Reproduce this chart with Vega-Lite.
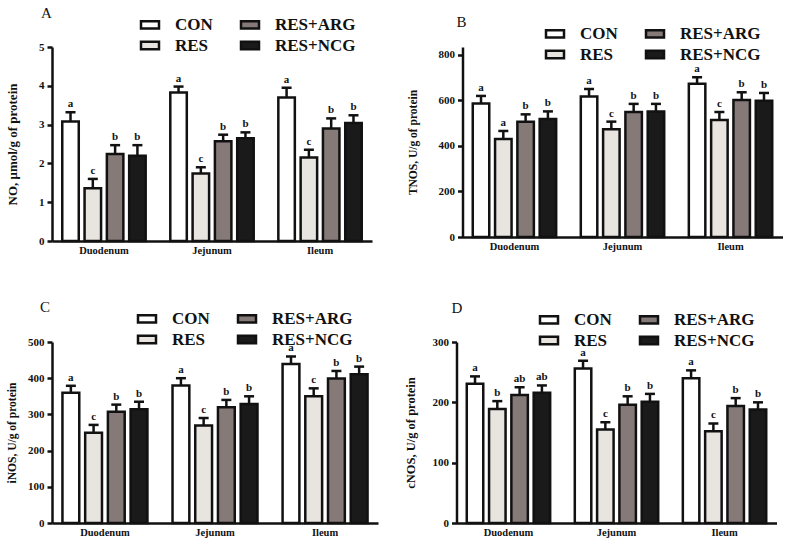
{
  "$schema": "https://vega.github.io/schema/vega-lite/v6.json",
  "padding": {"left": 6, "top": 6, "right": 2, "bottom": 0},
  "datasets": {
    "no": [
      {"segment": "Duodenum", "group": "CON", "mean": 3.08, "upper": 3.32, "letter": "a"},
      {"segment": "Duodenum", "group": "RES", "mean": 1.36, "upper": 1.60, "letter": "c"},
      {"segment": "Duodenum", "group": "RES+ARG", "mean": 2.24, "upper": 2.47, "letter": "b"},
      {"segment": "Duodenum", "group": "RES+NCG", "mean": 2.20, "upper": 2.47, "letter": "b"},
      {"segment": "Jejunum", "group": "CON", "mean": 3.83, "upper": 3.98, "letter": "a"},
      {"segment": "Jejunum", "group": "RES", "mean": 1.74, "upper": 1.90, "letter": "c"},
      {"segment": "Jejunum", "group": "RES+ARG", "mean": 2.57, "upper": 2.74, "letter": "b"},
      {"segment": "Jejunum", "group": "RES+NCG", "mean": 2.65, "upper": 2.80, "letter": "b"},
      {"segment": "Ileum", "group": "CON", "mean": 3.70, "upper": 3.95, "letter": "a"},
      {"segment": "Ileum", "group": "RES", "mean": 2.15, "upper": 2.35, "letter": "c"},
      {"segment": "Ileum", "group": "RES+ARG", "mean": 2.90, "upper": 3.16, "letter": "b"},
      {"segment": "Ileum", "group": "RES+NCG", "mean": 3.04, "upper": 3.24, "letter": "b"}
    ],
    "tnos": [
      {"segment": "Duodenum", "group": "CON", "mean": 587, "upper": 620, "letter": "a"},
      {"segment": "Duodenum", "group": "RES", "mean": 431, "upper": 466, "letter": "a"},
      {"segment": "Duodenum", "group": "RES+ARG", "mean": 507, "upper": 539, "letter": "b"},
      {"segment": "Duodenum", "group": "RES+NCG", "mean": 519, "upper": 552, "letter": "b"},
      {"segment": "Jejunum", "group": "CON", "mean": 617, "upper": 650, "letter": "a"},
      {"segment": "Jejunum", "group": "RES", "mean": 473, "upper": 507, "letter": "c"},
      {"segment": "Jejunum", "group": "RES+ARG", "mean": 549, "upper": 585, "letter": "b"},
      {"segment": "Jejunum", "group": "RES+NCG", "mean": 552, "upper": 585, "letter": "b"},
      {"segment": "Ileum", "group": "CON", "mean": 673, "upper": 702, "letter": "a"},
      {"segment": "Ileum", "group": "RES", "mean": 514, "upper": 549, "letter": "c"},
      {"segment": "Ileum", "group": "RES+ARG", "mean": 602, "upper": 636, "letter": "b"},
      {"segment": "Ileum", "group": "RES+NCG", "mean": 599, "upper": 633, "letter": "b"}
    ],
    "inos": [
      {"segment": "Duodenum", "group": "CON", "mean": 360, "upper": 379, "letter": "a"},
      {"segment": "Duodenum", "group": "RES", "mean": 249, "upper": 271, "letter": "c"},
      {"segment": "Duodenum", "group": "RES+ARG", "mean": 307, "upper": 327, "letter": "b"},
      {"segment": "Duodenum", "group": "RES+NCG", "mean": 314, "upper": 335, "letter": "b"},
      {"segment": "Jejunum", "group": "CON", "mean": 380, "upper": 400, "letter": "a"},
      {"segment": "Jejunum", "group": "RES", "mean": 269, "upper": 290, "letter": "c"},
      {"segment": "Jejunum", "group": "RES+ARG", "mean": 320, "upper": 340, "letter": "b"},
      {"segment": "Jejunum", "group": "RES+NCG", "mean": 329, "upper": 350, "letter": "b"},
      {"segment": "Ileum", "group": "CON", "mean": 439, "upper": 460, "letter": "a"},
      {"segment": "Ileum", "group": "RES", "mean": 350, "upper": 372, "letter": "c"},
      {"segment": "Ileum", "group": "RES+ARG", "mean": 399, "upper": 420, "letter": "b"},
      {"segment": "Ileum", "group": "RES+NCG", "mean": 411, "upper": 432, "letter": "b"}
    ],
    "cnos": [
      {"segment": "Duodenum", "group": "CON", "mean": 231, "upper": 243, "letter": "a"},
      {"segment": "Duodenum", "group": "RES", "mean": 189, "upper": 202, "letter": "b"},
      {"segment": "Duodenum", "group": "RES+ARG", "mean": 212, "upper": 225, "letter": "ab"},
      {"segment": "Duodenum", "group": "RES+NCG", "mean": 216, "upper": 228, "letter": "ab"},
      {"segment": "Jejunum", "group": "CON", "mean": 256, "upper": 269, "letter": "a"},
      {"segment": "Jejunum", "group": "RES", "mean": 155, "upper": 167, "letter": "c"},
      {"segment": "Jejunum", "group": "RES+ARG", "mean": 196, "upper": 210, "letter": "b"},
      {"segment": "Jejunum", "group": "RES+NCG", "mean": 201, "upper": 214, "letter": "b"},
      {"segment": "Ileum", "group": "CON", "mean": 240, "upper": 253, "letter": "a"},
      {"segment": "Ileum", "group": "RES", "mean": 152, "upper": 165, "letter": "c"},
      {"segment": "Ileum", "group": "RES+ARG", "mean": 194, "upper": 207, "letter": "b"},
      {"segment": "Ileum", "group": "RES+NCG", "mean": 188, "upper": 200, "letter": "b"}
    ]
  },
  "config": {
    "font": "Liberation Serif",
    "view": {"stroke": null},
    "axis": {
      "domainColor": "#111111",
      "domainWidth": 2.5,
      "tickColor": "#111111",
      "tickWidth": 2.5,
      "tickSize": 5,
      "labelFont": "Liberation Serif",
      "labelFontWeight": "bold",
      "labelFontSize": 11,
      "labelColor": "#111111",
      "labelOverlap": false,
      "titleFont": "Liberation Serif",
      "titleFontWeight": "bold",
      "titleColor": "#111111",
      "grid": false
    },
    "axisX": {"ticks": false, "labelAngle": 0, "labelPadding": 4, "title": null, "labelFontSize": 10.5},
    "axisY": {"labelPadding": 3},
    "title": {
      "font": "Liberation Serif",
      "fontSize": 15,
      "fontWeight": "normal",
      "color": "#111111",
      "anchor": "start",
      "frame": "group"
    },
    "legend": {
      "orient": "none",
      "columns": 2,
      "title": null,
      "padding": 0,
      "rowPadding": 0,
      "columnPadding": 22,
      "symbolType": "M-0.9,-0.37H0.9V0.37H-0.9Z",
      "symbolSize": 400,
      "symbolStrokeColor": "#111111",
      "symbolStrokeWidth": 2.5,
      "labelFont": "Liberation Serif",
      "labelFontWeight": "bold",
      "labelFontSize": 17,
      "labelColor": "#111111",
      "labelOffset": 13.5
    }
  },
  "resolve": {"scale": {"x": "independent", "y": "independent", "fill": "independent", "xOffset": "independent"}, "legend": {"fill": "independent"}},
  "columns": 1,
  "align": "none",
  "spacing": 44,
  "concat": [
    {
      "resolve": {"scale": {"x": "independent", "y": "independent", "fill": "independent", "xOffset": "independent"}, "legend": {"fill": "independent"}},
      "spacing": 34.5,
      "hconcat": [
        {
          "title": {"text": "A", "dx": -11, "offset": -8},
          "width": 320,
          "height": 194,
          "data": {"name": "no"},
          "encoding": {
            "x": {"field": "segment", "type": "nominal", "sort": ["Duodenum", "Jejunum", "Ileum"], "scale": {"paddingInner": 0.228, "paddingOuter": 0.095}},
            "xOffset": {"field": "group", "type": "nominal", "sort": ["CON", "RES", "RES+ARG", "RES+NCG"], "scale": {"paddingInner": 0.26, "paddingOuter": 0}}
          },
          "layer": [
            {
              "mark": {"type": "bar", "stroke": "#111111", "strokeWidth": 2.5},
              "encoding": {
                "y": {"field": "mean", "type": "quantitative", "scale": {"domain": [0, 5], "nice": false}, "axis": {"values": [0, 1, 2, 3, 4, 5], "tickCount": 6, "labelOverlap": false, "title": "NO, μmol/g of protein", "titleFontSize": 13, "titlePadding": 19.5}},
                "fill": {"field": "group", "type": "nominal", "scale": {"domain": ["CON", "RES", "RES+ARG", "RES+NCG"], "range": ["#ffffff", "#e8e4e0", "#857a78", "#1b1a1a"]}, "legend": {"legendX": 86.5, "legendY": -34}}
              }
            },
            {"mark": {"type": "rule", "strokeWidth": 2.5, "color": "#111111"}, "encoding": {"y": {"field": "mean", "type": "quantitative"}, "y2": {"field": "upper"}}},
            {"mark": {"type": "tick", "thickness": 2.5, "size": 10, "color": "#111111", "opacity": 1}, "encoding": {"y": {"field": "upper", "type": "quantitative"}}},
            {"mark": {"type": "text", "font": "Liberation Serif", "fontWeight": "bold", "fontSize": 11, "dy": -5, "baseline": "alphabetic", "color": "#111111"}, "encoding": {"y": {"field": "upper", "type": "quantitative"}, "text": {"field": "letter"}}}
          ]
        },
        {
          "title": {"text": "B", "dx": -6, "offset": -8},
          "width": 320,
          "height": 190,
          "data": {"name": "tnos"},
          "encoding": {
            "x": {"field": "segment", "type": "nominal", "sort": ["Duodenum", "Jejunum", "Ileum"], "scale": {"paddingInner": 0.228, "paddingOuter": 0.095}},
            "xOffset": {"field": "group", "type": "nominal", "sort": ["CON", "RES", "RES+ARG", "RES+NCG"], "scale": {"paddingInner": 0.26, "paddingOuter": 0}}
          },
          "layer": [
            {
              "mark": {"type": "bar", "stroke": "#111111", "strokeWidth": 2.5},
              "encoding": {
                "y": {"field": "mean", "type": "quantitative", "scale": {"domain": [0, 835], "nice": false}, "axis": {"values": [0, 200, 400, 600, 800], "tickCount": 5, "labelOverlap": false, "title": "TNOS, U/g of protein", "titleFontSize": 11.5, "titlePadding": 20}},
                "fill": {"field": "group", "type": "nominal", "scale": {"domain": ["CON", "RES", "RES+ARG", "RES+NCG"], "range": ["#ffffff", "#e8e4e0", "#857a78", "#1b1a1a"]}, "legend": {"legendX": 81, "legendY": -25}}
              }
            },
            {"mark": {"type": "rule", "strokeWidth": 2.5, "color": "#111111"}, "encoding": {"y": {"field": "mean", "type": "quantitative"}, "y2": {"field": "upper"}}},
            {"mark": {"type": "tick", "thickness": 2.5, "size": 10, "color": "#111111", "opacity": 1}, "encoding": {"y": {"field": "upper", "type": "quantitative"}}},
            {"mark": {"type": "text", "font": "Liberation Serif", "fontWeight": "bold", "fontSize": 11, "dy": -5, "baseline": "alphabetic", "color": "#111111"}, "encoding": {"y": {"field": "upper", "type": "quantitative"}, "text": {"field": "letter"}}}
          ]
        }
      ]
    },
    {
      "resolve": {"scale": {"x": "independent", "y": "independent", "fill": "independent", "xOffset": "independent"}, "legend": {"fill": "independent"}},
      "spacing": 25.5,
      "hconcat": [
        {
          "title": {"text": "C", "dx": -12, "offset": -8},
          "width": 326,
          "height": 181,
          "data": {"name": "inos"},
          "encoding": {
            "x": {"field": "segment", "type": "nominal", "sort": ["Duodenum", "Jejunum", "Ileum"], "scale": {"paddingInner": 0.228, "paddingOuter": 0.095}},
            "xOffset": {"field": "group", "type": "nominal", "sort": ["CON", "RES", "RES+ARG", "RES+NCG"], "scale": {"paddingInner": 0.26, "paddingOuter": 0}}
          },
          "layer": [
            {
              "mark": {"type": "bar", "stroke": "#111111", "strokeWidth": 2.5},
              "encoding": {
                "y": {"field": "mean", "type": "quantitative", "scale": {"domain": [0, 500], "nice": false}, "axis": {"values": [0, 100, 200, 300, 400, 500], "tickCount": 6, "labelOverlap": false, "title": "iNOS, U/g of protein", "titleFontSize": 11.5, "titlePadding": 10}},
                "fill": {"field": "group", "type": "nominal", "scale": {"domain": ["CON", "RES", "RES+ARG", "RES+NCG"], "range": ["#ffffff", "#e8e4e0", "#857a78", "#1b1a1a"]}, "legend": {"legendX": 83.5, "legendY": -35}}
              }
            },
            {"mark": {"type": "rule", "strokeWidth": 2.5, "color": "#111111"}, "encoding": {"y": {"field": "mean", "type": "quantitative"}, "y2": {"field": "upper"}}},
            {"mark": {"type": "tick", "thickness": 2.5, "size": 10, "color": "#111111", "opacity": 1}, "encoding": {"y": {"field": "upper", "type": "quantitative"}}},
            {"mark": {"type": "text", "font": "Liberation Serif", "fontWeight": "bold", "fontSize": 11, "dy": -5, "baseline": "alphabetic", "color": "#111111"}, "encoding": {"y": {"field": "upper", "type": "quantitative"}, "text": {"field": "letter"}}}
          ]
        },
        {
          "title": {"text": "D", "dx": -5, "offset": -8},
          "width": 320,
          "height": 181,
          "data": {"name": "cnos"},
          "encoding": {
            "x": {"field": "segment", "type": "nominal", "sort": ["Duodenum", "Jejunum", "Ileum"], "scale": {"paddingInner": 0.228, "paddingOuter": 0.095}},
            "xOffset": {"field": "group", "type": "nominal", "sort": ["CON", "RES", "RES+ARG", "RES+NCG"], "scale": {"paddingInner": 0.26, "paddingOuter": 0}}
          },
          "layer": [
            {
              "mark": {"type": "bar", "stroke": "#111111", "strokeWidth": 2.5},
              "encoding": {
                "y": {"field": "mean", "type": "quantitative", "scale": {"domain": [0, 300], "nice": false}, "axis": {"values": [0, 100, 200, 300], "tickCount": 4, "labelOverlap": false, "title": "cNOS, U/g of protein", "titleFontSize": 12.5, "titlePadding": 15}},
                "fill": {"field": "group", "type": "nominal", "scale": {"domain": ["CON", "RES", "RES+ARG", "RES+NCG"], "range": ["#ffffff", "#e8e4e0", "#857a78", "#1b1a1a"]}, "legend": {"legendX": 81, "legendY": -34}}
              }
            },
            {"mark": {"type": "rule", "strokeWidth": 2.5, "color": "#111111"}, "encoding": {"y": {"field": "mean", "type": "quantitative"}, "y2": {"field": "upper"}}},
            {"mark": {"type": "tick", "thickness": 2.5, "size": 10, "color": "#111111", "opacity": 1}, "encoding": {"y": {"field": "upper", "type": "quantitative"}}},
            {"mark": {"type": "text", "font": "Liberation Serif", "fontWeight": "bold", "fontSize": 11, "dy": -5, "baseline": "alphabetic", "color": "#111111"}, "encoding": {"y": {"field": "upper", "type": "quantitative"}, "text": {"field": "letter"}}}
          ]
        }
      ]
    }
  ]
}
